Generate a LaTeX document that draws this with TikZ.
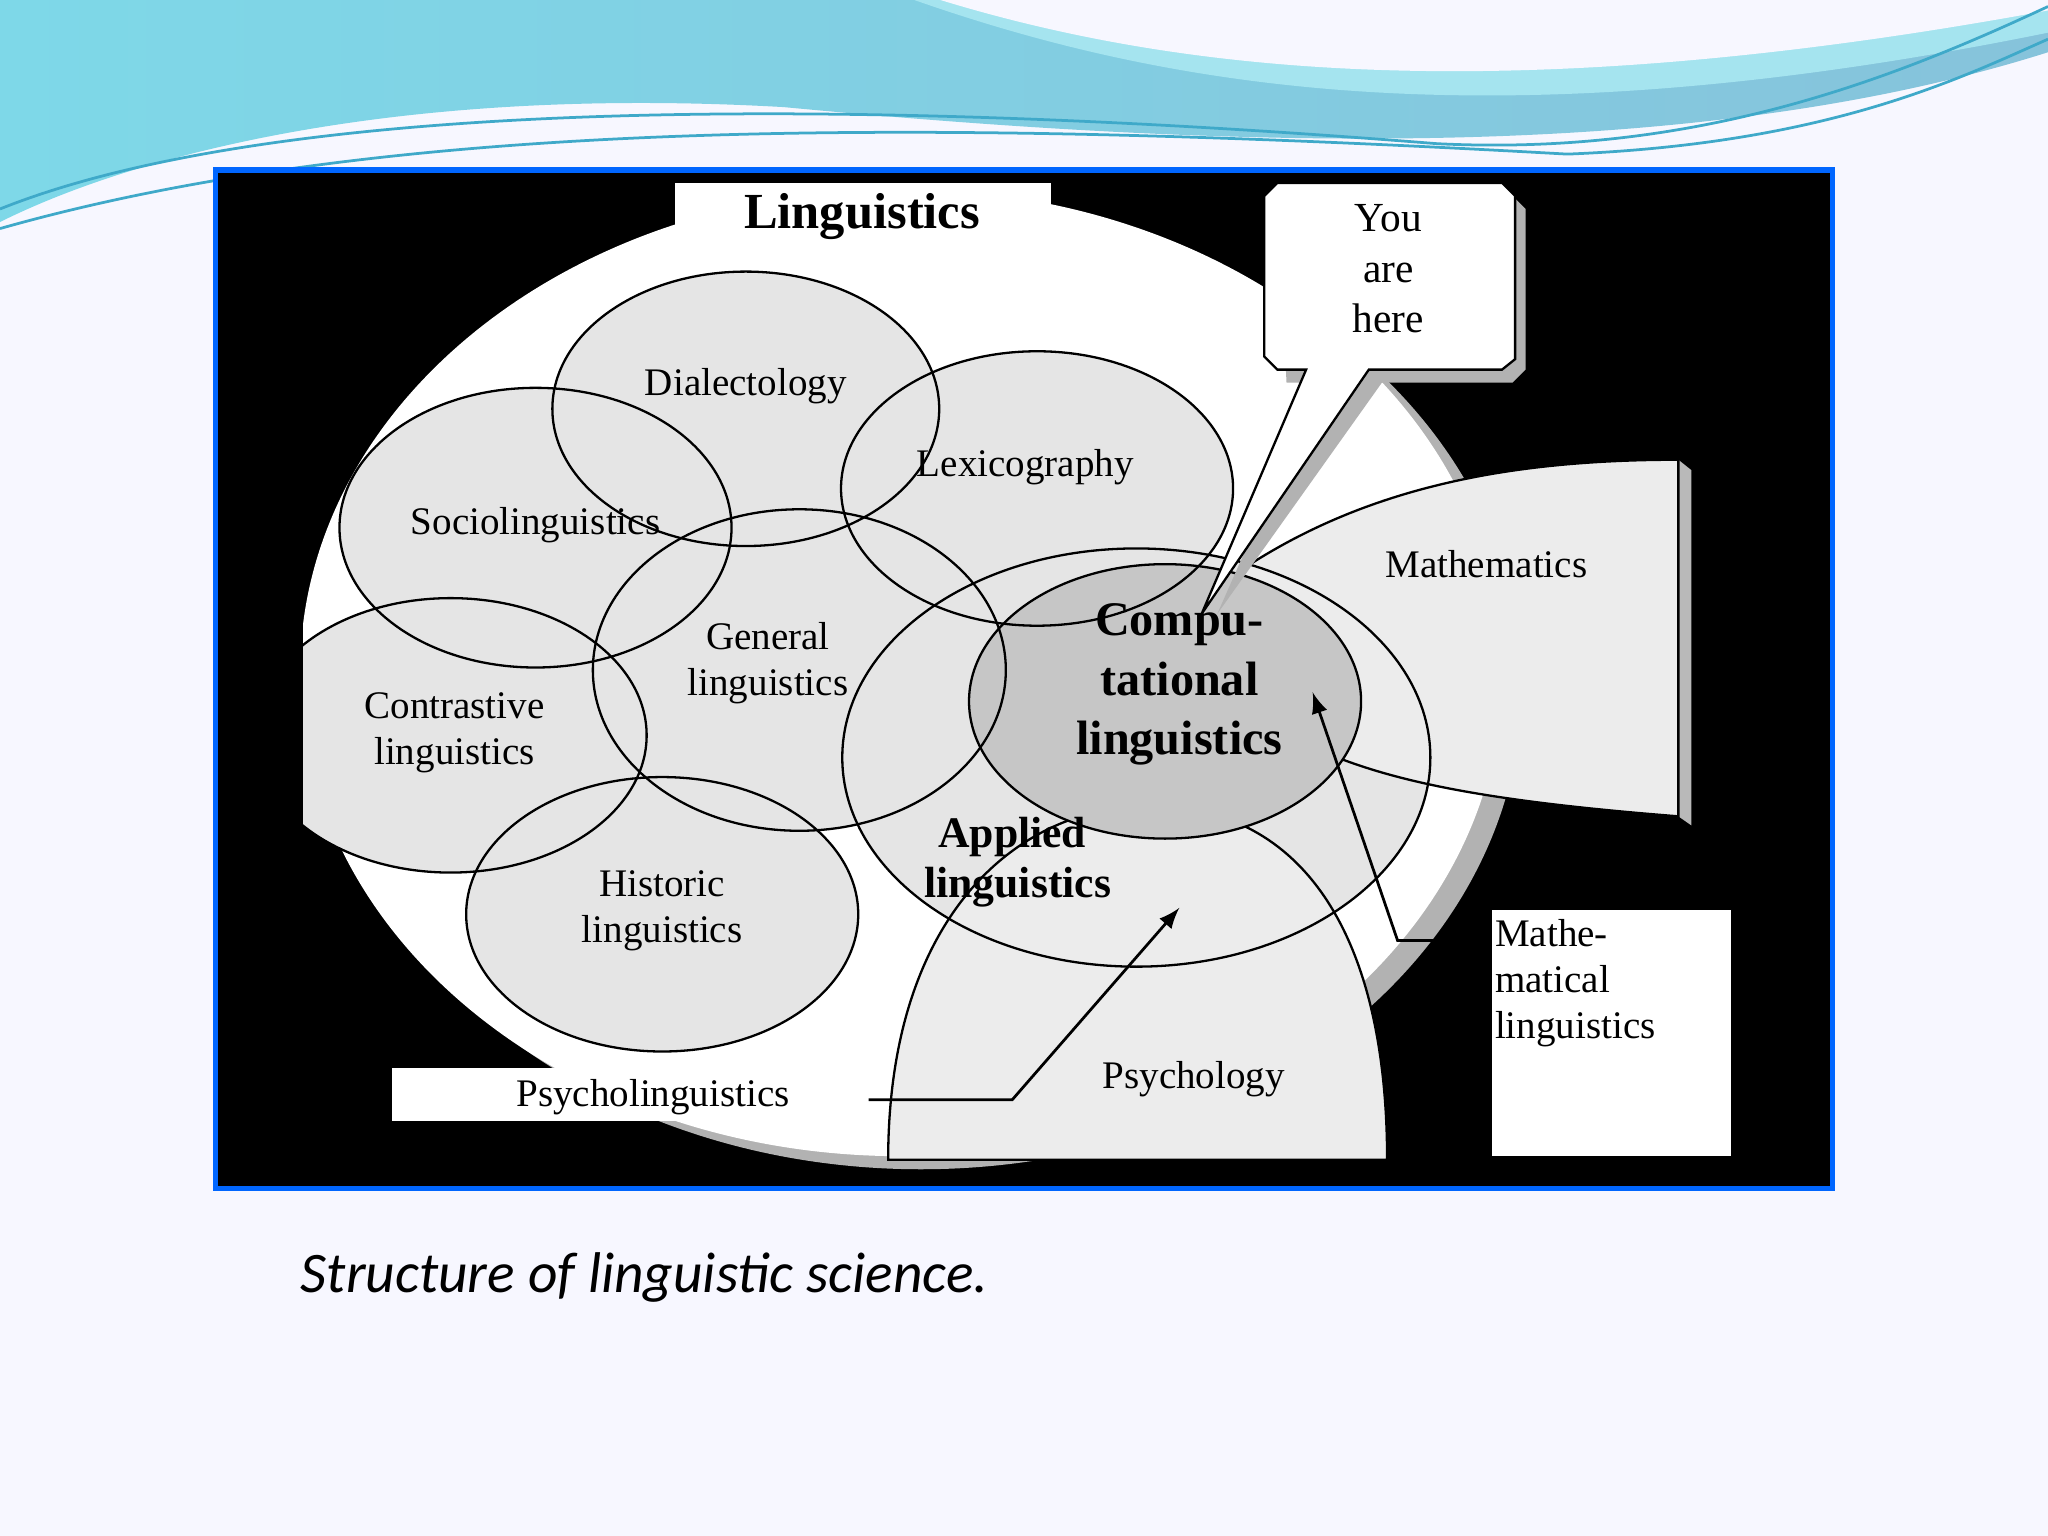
\documentclass[tikz,border=0pt]{standalone}
\usepackage{fontspec}
\setmainfont{Liberation Serif}
\newfontfamily\capfont{Carlito}
\definecolor{wavea}{HTML}{86C3DB}
\definecolor{waveb}{HTML}{7ED8E8}
\definecolor{wavel}{HTML}{3FA9C9}
\begin{document}
\begin{tikzpicture}[x=0.01cm,y=-0.01cm,
  lbl/.style={font=\fontsize{8.5}{10}\selectfont,align=center,inner sep=0pt},
  blbl/.style={font=\fontsize{9.5}{11}\selectfont\bfseries,align=center,inner sep=0pt},
  circ/.style={draw=black,line width=0.5pt},
  cfill/.style={fill=gray!20},
  arr/.style={draw=black,line width=0.6pt,-latex}]
\useasboundingbox (0,0) rectangle (1568,1176);
\fill[white!97!blue] (0,0) rectangle (1568,1176);
% top waves
\shade[left color=waveb,right color=wavea] (0,0) -- (1568,0) -- (1568,40) .. controls (1300,125) and (950,115) .. (600,82) .. controls (300,65) and (100,120) .. (0,170) -- cycle;
\fill[waveb!70] (700,0) .. controls (900,70) and (1150,110) .. (1568,25) -- (1568,0) -- cycle;
\fill[white!97!blue] (720,0) .. controls (900,55) and (1150,85) .. (1568,8) -- (1568,0) -- cycle;
\draw[wavel,line width=0.6pt] (0,160) .. controls (200,80) and (600,70) .. (1100,110) .. controls (1300,120) and (1450,60) .. (1568,5);
\draw[wavel,line width=0.6pt] (0,175) .. controls (300,90) and (700,90) .. (1200,118) .. controls (1400,110) and (1500,60) .. (1568,30);
% black panel
\fill[black] (165,130) rectangle (1403,910);
\draw[blue!60!cyan,line width=1.2pt] (165,130) rectangle (1403,910);
% big white ellipse with shadow
\begin{scope}
\clip (232,130) rectangle (1403,910);
\fill[gray!60] (705,525) ellipse [x radius=4.6cm,y radius=3.7cm];
\fill[white] (690,515) ellipse [x radius=4.6cm,y radius=3.7cm];
\end{scope}
\begin{scope}
\clip (232,130) rectangle (1403,910);
\fill[cfill] (571,313) ellipse [x radius=1.48cm,y radius=1.05cm];
\fill[cfill] (794,374) ellipse [x radius=1.5cm,y radius=1.05cm];
\fill[cfill] (410,404) ellipse [x radius=1.5cm,y radius=1.07cm];
\fill[cfill] (612,513) ellipse [x radius=1.58cm,y radius=1.23cm];
\fill[cfill] (345,563) ellipse [x radius=1.5cm,y radius=1.05cm];
\fill[cfill] (507,700) ellipse [x radius=1.5cm,y radius=1.05cm];
\fill[cfill] (870,580) ellipse [x radius=2.25cm,y radius=1.6cm];
% mathematics
\fill[gray!55] (1295,360) -- (1295,632) -- (1285,625) -- (1285,352) -- cycle;
\path[fill=gray!15,draw=black,line width=0.5pt] (945,440) .. controls (1040,375) and (1150,352) .. (1285,352) -- (1285,625) .. controls (1120,612) and (1050,595) .. (990,565);
% psychology
\path[fill=gray!15,draw=black,line width=0.5pt] (680,888) .. controls (680,700) and (780,617) .. (880,617) .. controls (1000,617) and (1062,720) .. (1062,888) -- cycle;
\fill[gray!45] (892,537) ellipse [x radius=1.5cm,y radius=1.05cm];
\draw[circ] (571,313) ellipse [x radius=1.48cm,y radius=1.05cm];
\draw[circ] (794,374) ellipse [x radius=1.5cm,y radius=1.05cm];
\draw[circ] (410,404) ellipse [x radius=1.5cm,y radius=1.07cm];
\draw[circ] (612,513) ellipse [x radius=1.58cm,y radius=1.23cm];
\draw[circ] (345,563) ellipse [x radius=1.5cm,y radius=1.05cm];
\draw[circ] (507,700) ellipse [x radius=1.5cm,y radius=1.05cm];
\draw[circ] (870,580) ellipse [x radius=2.25cm,y radius=1.6cm];
\draw[circ] (892,537) ellipse [x radius=1.5cm,y radius=1.05cm];
\end{scope}
% Linguistics title
\fill[white] (517,140) rectangle (805,185);
\node[font=\fontsize{11}{13}\selectfont\bfseries] (ling) at (660,166) {Linguistics};
% You are here callout
\fill[gray!60] (978,150) -- (1158,150) -- (1168,160) -- (1168,283) -- (1158,293) -- (1058,293) -- (932,470) -- (1010,293) -- (985,293) -- cycle;
\path[fill=white,draw=black,line width=0.5pt] (978,140) -- (1150,140) -- (1160,150) -- (1160,275) -- (1150,283) -- (1048,283) -- (920,470) -- (1000,283) -- (978,283) -- (968,273) -- (968,150) -- cycle;
\node[lbl,font=\fontsize{9}{11}\selectfont] (you) at (1063,206) {You\\are\\here};
% labels
\node[lbl] (dia) at (571,296) {Dialectology};
\node[lbl] (lex) at (785,358) {Lexicography};
\node[lbl] (soc) at (410,402) {Sociolinguistics};
\node[lbl] (gen) at (588,508) {General\\linguistics};
\node[lbl] (con) at (348,561) {Contrastive\\linguistics};
\node[lbl] (his) at (507,697) {Historic\\linguistics};
\node[lbl] (mat) at (1138,432) {Mathematics};
\node[lbl] (psy) at (914,826) {Psychology};
\node[blbl] (app) at (775,660) {Applied\\\ linguistics};
\node[blbl,font=\fontsize{10.5}{13}\selectfont\bfseries] (comp) at (903,524) {Compu-\\tational\\linguistics};
% Mathematical linguistics box
\fill[white] (1142,697) rectangle (1325,885);
\node[lbl,align=left,anchor=north west] (ml) at (1144,703) {Mathe-\\matical\\linguistics};
\coordinate (mlt) at (1005,530);
\draw[arr] (1142,720) -- (1070,720) -- (mlt);
% Psycholinguistics box
\fill[white] (300,818) rectangle (668,858);
\node[lbl] (pl) at (500,840) {Psycholinguistics};
\coordinate (plt) at (903,695);
\draw[arr] (665,842) -- (775,842) -- (plt);
% caption
\node[anchor=west,font=\capfont\itshape\fontsize{12.5}{15}\selectfont] (cap) at (218,978) {Structure of linguistic science.};
\end{tikzpicture}
\end{document}
